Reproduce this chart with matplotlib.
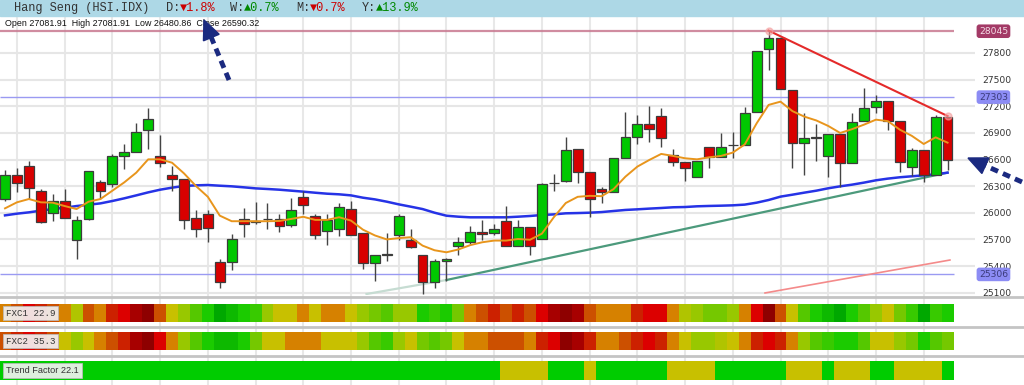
import numpy as np
import matplotlib
matplotlib.use("Agg")
import matplotlib.pyplot as plt
from matplotlib.colors import LinearSegmentedColormap, Normalize
from matplotlib.patches import Polygon, Rectangle
from matplotlib.lines import Line2D

# ---------------- data ----------------
opens = [26157, 26420, 26525, 26251, 25999, 26138, 25695, 25932, 26345, 26319,
         26645, 26683, 26927, 26645, 26431, 26375, 25943, 25988, 25448, 25448,
         25932, 25894, 25930, 25932, 25857, 26176, 25962, 25800, 25823, 26048,
         25767, 25429, 25528, 25755, 25699, 25530, 25222, 25455, 25624, 25673,
         25782, 25774, 25913, 25624, 25842, 25710, 26335, 26356, 26715, 26463,
         26264, 26238, 26614, 26858, 27000, 27091, 26651, 26569, 26407, 26745,
         26632, 26762, 26764, 27132, 27842, 27965, 27383, 26790, 26845, 26644,
         26884, 26565, 27034, 27188, 27263, 27034, 26513, 26707, 26426, 27081.91]
highs = [26480, 26499, 26581, 26270, 26206, 26273, 25962, 26476, 26364, 26657,
         26777, 27006, 27182, 26871, 26525, 26375, 26037, 26037, 25474, 25763,
         26056, 26123, 26112, 25988, 26168, 26251, 25981, 25981, 26112, 26138,
         25767, 25530, 25774, 25988, 25812, 25530, 25474, 25492, 25729, 25849,
         25924, 25876, 26075, 25924, 25842, 26337, 26439, 26852, 26715, 26463,
         26294, 26614, 27139, 27102, 27203, 27177, 26715, 26569, 26584, 26745,
         26895, 26907, 27188, 27827, 28052, 27965, 27383, 27128, 27000, 26884,
         26884, 27121, 27402, 27327, 27263, 27034, 26734, 26707, 27102, 27081.91]
lows = [26131, 26232, 26150, 25887, 25906, 25943, 25474, 25924, 26150, 26289,
        26495, 26683, 26713, 26514, 26243, 25812, 25725, 25673, 25155, 25354,
        25725, 25876, 25812, 25785, 25838, 25981, 25710, 25635, 25737, 25755,
        25372, 25237, 25455, 25688, 25598, 25080, 25155, 25237, 25530, 25643,
        25699, 25755, 25624, 25624, 25530, 25710, 26243, 26349, 26332, 25956,
        26114, 26238, 26614, 26775, 26801, 26738, 26531, 26362, 26407, 26501,
        26632, 26614, 26764, 27132, 27609, 27395, 26508, 26426, 26587, 26407,
        26295, 26565, 27034, 27128, 26933, 26464, 26415, 26351, 26426, 26480.86]
closes = [26420, 26337, 26274, 25898, 26138, 25943, 25924, 26469, 26244, 26638,
          26683, 26908, 27062, 26563, 26382, 25924, 25823, 25830, 25218, 25703,
          25879, 25913, 25934, 25849, 26026, 26093, 25755, 25917, 26067, 25755,
          25429, 25530, 25532, 25962, 25616, 25222, 25455, 25481, 25673, 25782,
          25763, 25812, 25624, 25842, 25631, 26326, 26339, 26702, 26463, 26156,
          26231, 26614, 26850, 27000, 26940, 26847, 26576, 26501, 26584, 26632,
          26745, 26766, 27121, 27827, 27965, 27395, 26783, 26839, 26849, 26884,
          26565, 27027, 27184, 27263, 27038, 26576, 26707, 26426, 27080, 26590.32]

ma_short = [26050, 26118, 26155, 26118, 26114, 26076, 26042, 26125, 26155, 26249,
            26343, 26452, 26602, 26602, 26564, 26444, 26302, 26180, 25968, 25905,
            25905, 25905, 25905, 25908, 25931, 25955, 25920, 25920, 25950, 25912,
            25810, 25745, 25700, 25715, 25725, 25630, 25578, 25555, 25587, 25636,
            25668, 25687, 25687, 25705, 25696, 25765, 25950, 26110, 26180, 26191,
            26187, 26266, 26407, 26520, 26595, 26663, 26640, 26614, 26602, 26625,
            26640, 26678, 26770, 27008, 27215, 27252, 27145, 27083, 27040, 26978,
            26899, 26942, 26993, 27049, 27032, 26936, 26867, 26775, 26850, 26790]
ma_long = [25971, 25990, 26005, 26024, 26042, 26057, 26076, 26091, 26106, 26133,
           26163, 26196, 26230, 26260, 26283, 26302, 26309, 26313, 26305, 26298,
           26287, 26275, 26268, 26260, 26249, 26238, 26226, 26215, 26208, 26196,
           26170, 26151, 26125, 26095, 26069, 26042, 26001, 25967, 25956, 25949,
           25949, 25949, 25949, 25956, 25964, 25975, 25982, 25994, 25997, 26001,
           26008, 26020, 26032, 26039, 26047, 26054, 26062, 26065, 26073, 26077,
           26080, 26084, 26092, 26114, 26144, 26182, 26204, 26227, 26249, 26276,
           26298, 26317, 26340, 26366, 26385, 26400, 26411, 26422, 26434, 26452]

# heat strips: 0 = deep red ... 10 = deep green
fxc1 = [5, 4, 2, 3, 4, 5, 6.5, 4, 5, 3, 2, 1, 0, 4, 6, 7, 8, 9, 10, 9.5,
        9, 8.5, 7, 6, 6, 5, 6, 5, 5, 6, 7, 7.5, 8, 7, 7, 9, 8.5, 9, 7.5, 5,
        4, 3, 4, 3, 4, 2, 1, 0, 1, 4, 5, 5, 5, 3, 2, 2, 5, 6.5, 7, 7.5,
        7.5, 7, 5, 2, 0, 4, 6, 8, 9, 9.5, 10, 9, 8, 7, 6, 7.5, 8.5, 10, 8.5, 9]
fxc2 = [4, 3, 2, 3, 4, 6, 7, 6, 5, 4, 3, 1, 0, 2, 5, 7, 8, 9, 9.5, 9.5,
        9, 7.5, 6, 6, 5, 5, 5, 6, 6, 6, 7, 8, 8.5, 7, 6, 7.5, 8, 7.5, 6, 5,
        5, 4, 4, 4, 5, 3, 2, 0, 1, 3, 5, 5, 4, 3, 2, 3, 5, 6, 7, 7,
        6.5, 6, 5, 3, 2, 3, 5, 7, 8, 8.5, 9, 9, 8, 6, 6, 7, 7.5, 9, 8, 7.5]
trend = [1] * 42 + [0, 0, 0, 0, 1, 1, 1, 0, 1, 1, 1, 1, 1, 1, 0, 0, 0, 0,
                    1, 1, 1, 1, 1, 1, 0, 0, 0, 1, 0, 0, 0, 1, 1, 0, 0, 0, 0, 1]

levels = [28045, 27303, 25306]
yticks = [25100, 25400, 25700, 26000, 26300, 26600, 26900, 27200, 27500, 27800]

# trend lines (candle index, price)
res_x, res_y = [64, 79], [28052, 27090]
sup_x, sup_y = [30.3, 37, 79], [25085, 25243, 26452]
low_x, low_y = [63.7, 79.2], [25097, 25468]

# ---------------- layout ----------------
W, H = 1024, 385
fig = plt.figure(figsize=(W / 100, H / 100), dpi=100)
fig.patch.set_facecolor("white")


def fx(px):
    return px / W


def fy(py):
    return 1 - py / H


XR = 975
xlim = (-0.42, 81.3)
idx = np.arange(len(closes))

# background: vertical grid
bg = fig.add_axes([0, 0, fx(XR), fy(17)])
bg.set_xlim(*xlim)
bg.set_ylim(0, 1)
bg.axis("off")
for g in range(1, 80, 4):
    bg.axvline(g, color="#e8e8e8", lw=1.5)

# header band
fig.patches.append(Rectangle((0, fy(16)), 1, 16 / H, transform=fig.transFigure,
                             color="#add8e6", zorder=0))
mono = ["Liberation Mono", "DejaVu Sans Mono"]
hdr = [(14, "Hang Seng (HSI.IDX)", "#333333"),
       (166, "D:", "#333333"), (180.4, "\u25bc1.8%", "#cc0000"),
       (230, "W:", "#333333"), (244.4, "\u25b20.7%", "#008800"),
       (296, "M:", "#333333"), (310.4, "\u25bc0.7%", "#cc0000"),
       (362, "Y:", "#333333"), (376.4, "\u25b213.9%", "#008800")]
for px, s, c in hdr:
    fig.text(fx(px), fy(8), s, family=mono, fontsize=8.6, color=c,
             va="center", ha="left")
fig.text(fx(5), fy(24), "Open 27081.91  High 27081.91  Low 26480.86  Close 26590.32",
         family=["Liberation Sans", "DejaVu Sans"], fontsize=6.4, color="#111111",
         va="center", ha="left")

# main price panel
ax = fig.add_axes([0, fy(295), fx(XR), fy(18) - fy(295)])
ax.set_facecolor("none")
ax.set_xlim(*xlim)
ax.set_ylim(25074, 28194)
for s in ax.spines.values():
    s.set_visible(False)
ax.set_xticks([])
ax.set_yticks(yticks)
ax.yaxis.tick_right()
ax.tick_params(axis="y", length=0, pad=5, labelsize=6.6, labelcolor="#333333")
ax.grid(axis="y", color="#e6e6e6", lw=1.5)
ax.set_axisbelow(True)

# level lines
ax.hlines(levels[0], xlim[0], 79.5, color="#c87890", lw=1.6, alpha=0.85, zorder=1)
ax.hlines(levels[1:], xlim[0], 79.5, color="#9a9af2", lw=1.0, zorder=1)
box_style = dict(boxstyle="round,pad=0.25,rounding_size=0.3", lw=0)
ax.text(1.004, levels[0], str(levels[0]), transform=ax.get_yaxis_transform(),
        fontsize=6.6, color="#f4dce6", va="center", ha="left",
        bbox=dict(fc="#a33a66", **box_style))
for lv in levels[1:]:
    ax.text(1.004, lv, str(lv), transform=ax.get_yaxis_transform(),
            fontsize=6.6, color="#3a3a7a", va="center", ha="left",
            bbox=dict(fc="#8c8cf4", **box_style))

# moving averages
ax.plot(idx, ma_long, color="#2633e6", lw=1.8, zorder=3)
ax.plot(idx, ma_short, color="#e8951c", lw=1.4, zorder=5)

# candles
o, h, l, c = map(np.array, (opens, highs, lows, closes))
up = c >= o
cols = np.where(up, "#00c800", "#d80000")
ax.vlines(idx, l, h, color="#444444", lw=1.0, zorder=4)
ax.bar(idx, np.abs(c - o), bottom=np.minimum(o, c), width=0.82, color=cols,
       edgecolor="#3c3c3c", lw=0.9, zorder=4)

# trend lines
ax.plot(sup_x[:2], sup_y[:2], color="#c6dcd2", lw=1.6, zorder=2)
ax.plot(sup_x[1:], sup_y[1:], color="#4c9a7c", lw=1.6, zorder=2)
ax.plot(res_x, res_y, color="#e42a2a", lw=1.5, zorder=6)
ax.plot(res_x, res_y, "o", color="#f4a0a0", ms=5, alpha=0.6, zorder=6)
ax.plot(low_x, low_y, color="#f48a8a", lw=1.2, zorder=2)

# heat strips
cmap = LinearSegmentedColormap.from_list(
    "fxc", ["#8e0000", "#a80000", "#dc0000", "#cc2200", "#cc5000", "#d68000",
            "#c8c000", "#99c800", "#55c800", "#1ccc00", "#00a800"])
norm = Normalize(0, 10)
strips = [(304, 322, [cmap(norm(v)) for v in fxc1], "FXC1 22.9", mono),
          (332, 350, [cmap(norm(v)) for v in fxc2], "FXC2 35.3", mono),
          (361, 380, ["#00cc00" if t else "#c8c000" for t in trend],
           "Trend Factor 22.1", ["Liberation Sans", "DejaVu Sans"])]
for top, bot, colors, label, fam in strips:
    hx = fig.add_axes([0, fy(bot), fx(XR), fy(top) - fy(bot)])
    hx.set_xlim(*xlim)
    hx.set_ylim(0, 1)
    hx.axis("off")
    hx.bar(idx, 1, width=1.0, bottom=0, color=colors, lw=0)
    hx.text(fx(6) / fx(XR), 0.5, label, transform=hx.transAxes, family=fam,
            fontsize=6.6, color="#333333", va="center", ha="left",
            bbox=dict(boxstyle="square,pad=0.3", fc="#f2f2f2", ec="#bbbbbb",
                      lw=0.6, alpha=0.92))

for py in (297, 327, 356):
    fig.add_artist(Line2D([0, 1], [fy(py), fy(py)], color="#c4c4c4", lw=2,
                          transform=fig.transFigure))

# dashed annotation arrows (pixel coords, y downwards)
navy = "#1b2a80"


def dashed_arrow(tail, tip, head_len=19, head_w=17):
    t = np.array(tail, float)
    p = np.array(tip, float)
    u = (p - t) / np.hypot(*(p - t))
    base = p - u * head_len
    n = np.array([-u[1], u[0]])
    fig.add_artist(Line2D([fx(t[0]), fx(base[0])], [fy(t[1]), fy(base[1])],
                          color=navy, lw=3.5, linestyle=(0, (1.6, 1.1)),
                          transform=fig.transFigure, zorder=20))
    pts = [p, base + n * head_w / 2, base - n * head_w / 2]
    fig.add_artist(Polygon([(fx(q[0]), fy(q[1])) for q in pts], closed=True,
                           color=navy, transform=fig.transFigure, zorder=20))


dashed_arrow((229, 80), (204, 20))
dashed_arrow((1022, 182), (968, 158))

fig.savefig("out.png", dpi=100)
